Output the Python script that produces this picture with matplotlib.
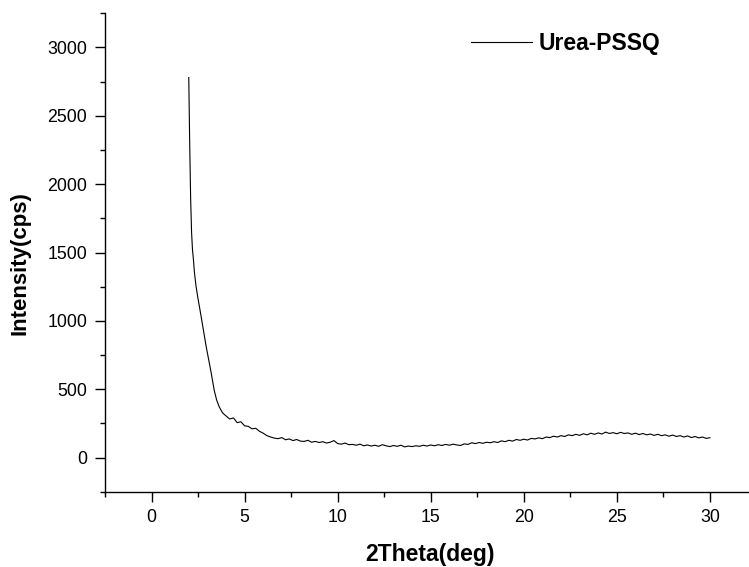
import numpy as np
import matplotlib.pyplot as plt
from matplotlib.ticker import MultipleLocator

plt.rcParams['font.family'] = ['Liberation Sans', 'DejaVu Sans']

# XRD pattern of Urea-PSSQ
two_theta = [2.00, 2.05, 2.10, 2.15, 2.20, 2.25, 2.30, 2.39, 2.50, 2.66,
             2.80, 2.93, 3.05, 3.20, 3.37, 3.50, 3.64, 3.80, 3.90,
             4.0, 4.2, 4.4, 4.6, 4.8, 5.0, 5.2, 5.4, 5.6, 5.8,
             6.0, 6.2, 6.4, 6.6, 6.8, 7.0, 7.2, 7.4, 7.6, 7.8,
             8.0, 8.2, 8.4, 8.6, 8.8, 9.0, 9.2, 9.4, 9.6, 9.8,
             10.0, 10.2, 10.4, 10.6, 10.8, 11.0, 11.2, 11.4, 11.6, 11.8,
             12.0, 12.2, 12.4, 12.6, 12.8, 13.0, 13.2, 13.4, 13.6, 13.8,
             14.0, 14.2, 14.4, 14.6, 14.8, 15.0, 15.2, 15.4, 15.6, 15.8,
             16.0, 16.2, 16.4, 16.6, 16.8, 17.0, 17.2, 17.4, 17.6, 17.8,
             18.0, 18.2, 18.4, 18.6, 18.8, 19.0, 19.2, 19.4, 19.6, 19.8,
             20.0, 20.2, 20.4, 20.6, 20.8, 21.0, 21.2, 21.4, 21.6, 21.8,
             22.0, 22.2, 22.4, 22.6, 22.8, 23.0, 23.2, 23.4, 23.6, 23.8,
             24.0, 24.2, 24.4, 24.6, 24.8, 25.0, 25.2, 25.4, 25.6, 25.8,
             26.0, 26.2, 26.4, 26.6, 26.8, 27.0, 27.2, 27.4, 27.6, 27.8,
             28.0, 28.2, 28.4, 28.6, 28.8, 29.0, 29.2, 29.4, 29.6, 29.8,
             30.0]
intensity = [2780, 2300, 1900, 1650, 1520, 1450, 1360, 1254, 1160, 1035,
             920, 816, 730, 623, 490, 420, 370, 330, 316,
             305, 282, 290, 255, 262, 232, 228, 210, 214, 192,
             178, 160, 150, 142, 138, 146, 130, 136, 124, 132,
             120, 118, 126, 112, 118, 110, 116, 106, 112, 124,
             102, 98, 106, 94, 96, 90, 98, 86, 92, 84,
             90, 82, 94, 86, 80, 88, 82, 90, 78, 84,
             80, 86, 82, 90, 84, 92, 86, 94, 88, 96,
             90, 98, 92, 88, 100, 96, 108, 102, 110, 104,
             112, 108, 116, 110, 122, 116, 126, 120, 132, 126,
             134, 128, 140, 136, 144, 138, 150, 146, 156, 150,
             160, 154, 166, 160, 170, 162, 174, 166, 178, 170,
             180, 172, 186, 176, 182, 174, 184, 176, 180, 170,
             178, 168, 176, 166, 172, 162, 170, 160, 166, 156,
             164, 154, 160, 150, 158, 146, 154, 144, 150, 140,
             145]

fig = plt.figure(figsize=(7.49, 5.67), dpi=100)
ax = fig.add_axes([0.1402, 0.1328, 0.8598, 0.8437])

ax.plot(two_theta, intensity, color='black', linewidth=0.8, label='Urea-PSSQ')

ax.set_xlim(-2.5, 32.1)
ax.set_ylim(-250, 3250)
ax.xaxis.set_major_locator(MultipleLocator(5))
ax.xaxis.set_minor_locator(MultipleLocator(2.5))
ax.yaxis.set_major_locator(MultipleLocator(500))
ax.yaxis.set_minor_locator(MultipleLocator(250))

ax.spines['top'].set_visible(False)
ax.spines['right'].set_visible(False)
for s in ('left', 'bottom'):
    ax.spines[s].set_linewidth(1.0)
ax.tick_params(which='major', direction='out', length=7.2, width=1.0,
               labelsize=12.8, pad=5.5)
ax.tick_params(which='minor', direction='out', length=3.6, width=1.0)

ax.set_xlabel('2Theta(deg)', fontsize=16.5, fontweight='bold', va='center')
ax.set_ylabel('Intensity(cps)', fontsize=16, fontweight='bold', va='center')
ax.xaxis.set_label_coords(0.505, -0.132)
ax.yaxis.set_label_coords(-0.132, 0.478)

ax.legend(loc='center left', bbox_to_anchor=(0.568, 0.936), frameon=False,
          handlelength=2.66, handletextpad=0.32, borderpad=0, borderaxespad=0,
          prop={'size': 16.5, 'weight': 'bold'})

fig.savefig('out.png', dpi=100)
